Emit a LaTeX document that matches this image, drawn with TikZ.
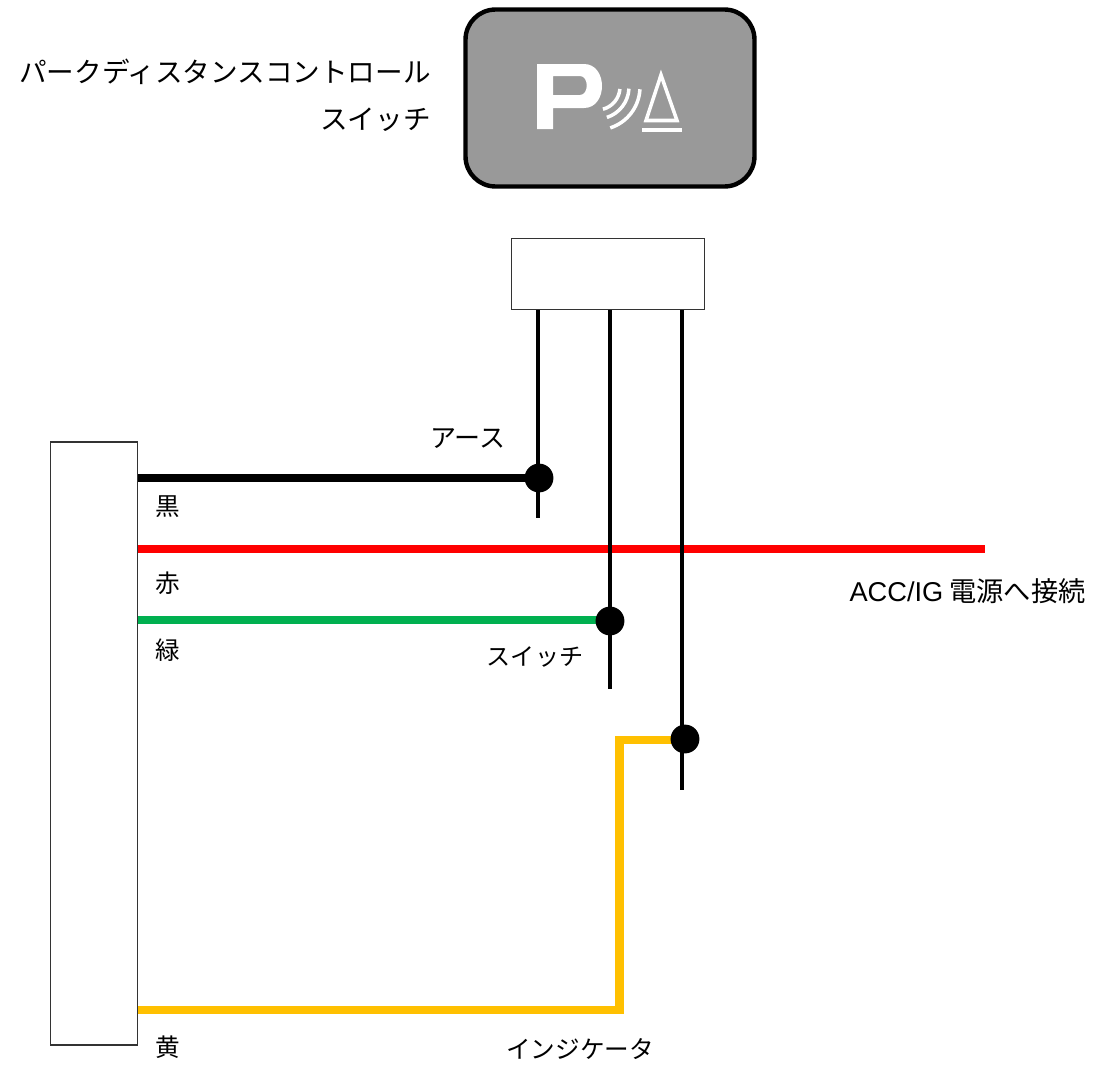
\documentclass[tikz,border=0pt]{standalone}
\usepackage{fontspec}
\setmainfont{Noto Sans CJK JP}
\newfontfamily\latinfont{Liberation Sans}
\tikzset{
    boxnode/.style={draw=black!80,line width=1pt,fill=white,inner sep=0pt},
    wire/.style={line width=4.6pt},
    signal/.style={line width=2.3pt},
    joint/.style={circle,fill=black,minimum size=16.4pt,inner sep=0pt},
    biglabel/.style={font=\fontsize{15.7}{26.7}\selectfont,inner sep=0pt,align=right},
    smalllabel/.style={font=\fontsize{14}{16}\selectfont,inner sep=0pt},
    icon/.style={draw=white,line width=2pt}
}
\definecolor{wirered}{RGB}{255,0,0}
\definecolor{wiregreen}{RGB}{0,176,80}
\definecolor{wireyellow}{RGB}{255,192,0}
\definecolor{panelgray}{RGB}{153,153,153}
\begin{document}
\begin{tikzpicture}[x=0.02cm,y=-0.02cm]
    \useasboundingbox (0,0) rectangle (1093,1069);

    % switch panel
    \node[draw=black,line width=2.5pt,fill=panelgray,rounded corners=0.6cm,minimum width=5.78cm,minimum height=3.54cm,inner sep=0pt] (panel) at (610,98) {};
    \node[biglabel,anchor=east] (title) at (431,95) {パークディスタンスコントロール\\スイッチ};

    \fill[white,even odd rule] (537,64) -- (584,64) .. controls (608,64) and (608,108) .. (584,108) -- (553,108) -- (553,129) -- (537,129) -- cycle
        (553,76) -- (580,76) .. controls (589,76) and (589,95) .. (580,95) -- (553,95) -- cycle;
    \draw[icon] (597,87) ++(-5:0.46cm) arc[start angle=-5,end angle=-75,radius=0.46cm];
    \draw[icon] (597,87) ++(-3:0.64cm) arc[start angle=-3,end angle=-72,radius=0.64cm];
    \draw[icon] (597,87) ++(-3:0.86cm) arc[start angle=-3,end angle=-72,radius=0.86cm];
    \draw[icon,line join=miter] (661,75) -- (677,120.5) -- (646,120.5) -- cycle;
    \draw[icon] (642,130) -- (682,130);

    % connector and unit
    \node[boxnode,minimum width=3.86cm,minimum height=1.42cm] (conn) at (608,274) {};
    \node[boxnode,minimum width=1.74cm,minimum height=12.06cm] (unit) at (94,743.5) {};

    \coordinate (connA) at (538,310);
    \coordinate (connB) at (610,310);
    \coordinate (connC) at (682,310);
    \coordinate (endA) at (538,518);
    \coordinate (endB) at (610,689);
    \coordinate (endC) at (682,790);
    \coordinate (unitK) at (138,478);
    \coordinate (unitR) at (138,549);
    \coordinate (unitG) at (138,620);
    \coordinate (unitY) at (138,1010);
    \coordinate (endR) at (985,549);
    \coordinate (bendLow) at (624,1010);
    \coordinate (bendFoot) at (619.5,1010);
    \coordinate (bendTop) at (619.5,740);

    % wires
    \draw[wire,black] (unitK) -- (unitK -| endA);
    \draw[wire,wirered] (unitR) -- (endR);
    \draw[wire,wiregreen] (unitG) -- (unitG -| endB);
    \draw[wire,wireyellow] (unitY) -- (bendLow);
    \draw[wire,wireyellow] (bendFoot) -- (bendTop) -- (bendTop -| endC);

    \draw[signal] (connA) -- (endA);
    \draw[signal] (connB) -- (endB);
    \draw[signal] (connC) -- (endC);

    \node[joint] (jointA) at (539,478) {};
    \node[joint] (jointB) at (610,621) {};
    \node[joint] (jointC) at (685,739) {};

    % labels
    \node[smalllabel] (lblK) at (167.5,507) {黒};
    \node[smalllabel] (lblR) at (167.5,583) {赤};
    \node[smalllabel] (lblG) at (167.5,650) {緑};
    \node[smalllabel] (lblY) at (167.5,1047) {黄};
    \node[smalllabel,font=\fontsize{14.8}{16}\selectfont] (lblEarth) at (468,439) {アース};
    \node[smalllabel,font=\fontsize{13.7}{16}\selectfont] (lblSwitch) at (535,657) {スイッチ};
    \node[smalllabel] (lblInd) at (580,1049) {インジケータ};
    \node[smalllabel,font=\fontsize{15.5}{16}\selectfont,anchor=east] (lblAcc) at (1086,591) {{\latinfont ACC/IG} 電源へ接続};
\end{tikzpicture}
\end{document}
